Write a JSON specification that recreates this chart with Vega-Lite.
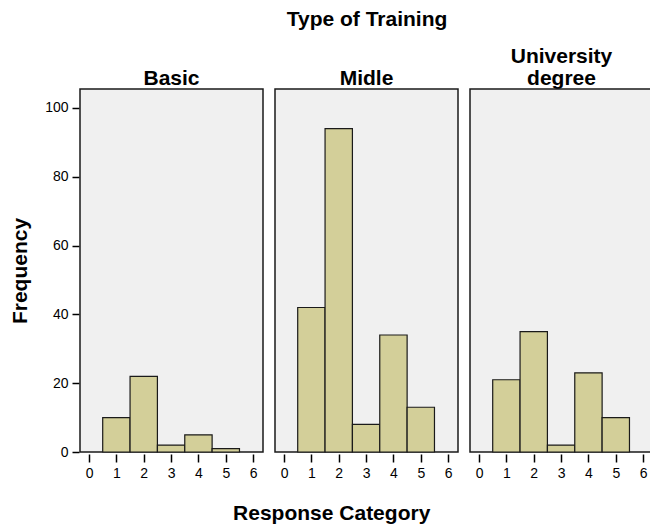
{
  "$schema": "https://vega.github.io/schema/vega-lite/v6.json",
  "padding": {"left": 9, "top": 9, "right": 0, "bottom": 5},
  "background": "white",
  "data": {
    "values": [
      {"training": "Basic", "category": 1, "lo": 0.5, "hi": 1.5, "frequency": 10},
      {"training": "Basic", "category": 2, "lo": 1.5, "hi": 2.5, "frequency": 22},
      {"training": "Basic", "category": 3, "lo": 2.5, "hi": 3.5, "frequency": 2},
      {"training": "Basic", "category": 4, "lo": 3.5, "hi": 4.5, "frequency": 5},
      {"training": "Basic", "category": 5, "lo": 4.5, "hi": 5.5, "frequency": 1},
      {"training": "Midle", "category": 1, "lo": 0.5, "hi": 1.5, "frequency": 42},
      {"training": "Midle", "category": 2, "lo": 1.5, "hi": 2.5, "frequency": 94},
      {"training": "Midle", "category": 3, "lo": 2.5, "hi": 3.5, "frequency": 8},
      {"training": "Midle", "category": 4, "lo": 3.5, "hi": 4.5, "frequency": 34},
      {"training": "Midle", "category": 5, "lo": 4.5, "hi": 5.5, "frequency": 13},
      {"training": "University degree", "category": 1, "lo": 0.5, "hi": 1.5, "frequency": 21},
      {"training": "University degree", "category": 2, "lo": 1.5, "hi": 2.5, "frequency": 35},
      {"training": "University degree", "category": 3, "lo": 2.5, "hi": 3.5, "frequency": 2},
      {"training": "University degree", "category": 4, "lo": 3.5, "hi": 4.5, "frequency": 23},
      {"training": "University degree", "category": 5, "lo": 4.5, "hi": 5.5, "frequency": 10}
    ]
  },
  "title": {
    "text": "Response Category",
    "orient": "bottom",
    "anchor": "middle",
    "font": "Liberation Sans",
    "fontSize": 21,
    "fontWeight": "bold",
    "color": "black",
    "offset": 23
  },
  "facet": {
    "column": {
      "field": "training",
      "type": "nominal",
      "sort": ["Basic", "Midle", "University degree"],
      "title": "Type of Training",
      "header": {
        "titleFont": "Liberation Sans",
        "titleFontSize": 21,
        "titleFontWeight": "bold",
        "titleColor": "black",
        "titlePadding": 6,
        "labelFont": "Liberation Sans",
        "labelFontSize": 21,
        "labelFontWeight": "bold",
        "labelColor": "black",
        "labelPadding": -1,
        "labelLineHeight": 22,
        "labelExpr": "datum.value == 'University degree' ? ['University', 'degree'] : datum.value"
      }
    }
  },
  "spacing": 10,
  "spec": {
    "width": 183,
    "height": 363,
    "mark": {"type": "bar", "fill": "#d3cf99", "stroke": "#1a1a1a", "strokeWidth": 1.2},
    "encoding": {
      "x": {
        "field": "lo",
        "type": "quantitative",
        "scale": {"domain": [-0.33, 6.36], "nice": false, "zero": false},
        "axis": {
          "title": null,
          "values": [0, 1, 2, 3, 4, 5, 6],
          "grid": false,
          "domain": false,
          "tickColor": "black",
          "tickWidth": 1.5,
          "tickSize": 8,
          "labelFont": "Liberation Sans",
          "labelFontSize": 14,
          "labelColor": "black",
          "labelPadding": 4,
          "labelFlush": false
        }
      },
      "x2": {"field": "hi"},
      "y": {
        "field": "frequency",
        "type": "quantitative",
        "scale": {"domain": [0, 105.5], "nice": false},
        "axis": {
          "title": "Frequency",
          "titleFont": "Liberation Sans",
          "titleFontSize": 21,
          "titleFontWeight": "bold",
          "titleColor": "black",
          "titlePadding": 14,
          "values": [0, 20, 40, 60, 80, 100],
          "grid": false,
          "domain": false,
          "tickColor": "black",
          "tickWidth": 1.5,
          "tickSize": 7,
          "labelFont": "Liberation Sans",
          "labelFontSize": 14,
          "labelColor": "black",
          "labelPadding": 4
        }
      },
      "y2": {"datum": 0}
    }
  },
  "config": {
    "view": {"fill": "#f0f0f0", "stroke": "#1a1a1a", "strokeWidth": 1.5}
  }
}
